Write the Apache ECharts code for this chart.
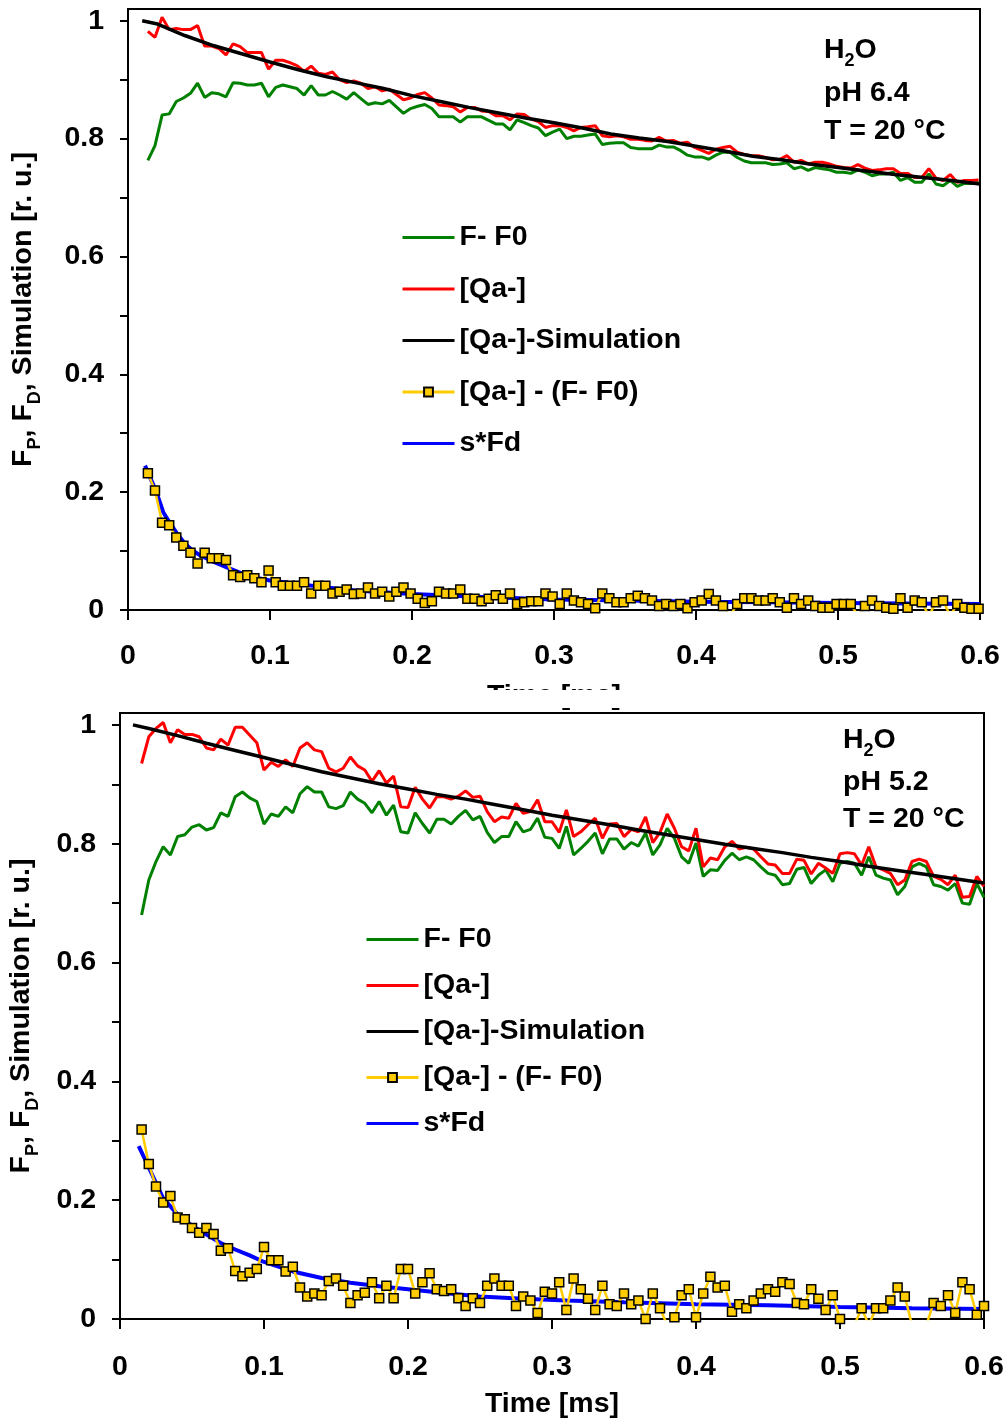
<!DOCTYPE html>
<html><head><meta charset="utf-8">
<script src="https://cdn.jsdelivr.net/npm/echarts@6/dist/echarts.min.js"></script>
<style>html,body{margin:0;padding:0;background:#fff}#c{width:1005px;height:1418px}</style>
</head><body><div id="c"></div>
<script>
// ---------- DATA ----------
const seriesNames = ['F- F0', '[Qa-]', '[Qa-]-Simulation', '[Qa-] - (F- F0)', 's*Fd'];
const xTickValues = [0, 0.1, 0.2, 0.3, 0.4, 0.5, 0.6];
const yLabelValues = [0, 0.2, 0.4, 0.6, 0.8, 1];
const yTickValues = [0, 0.1, 0.2, 0.3, 0.4, 0.5, 0.6, 0.7, 0.8, 0.9, 1];
const annotTop = ['pH 6.4', 'T = 20 °C'];
const annotBottom = ['pH 5.2', 'T = 20 °C'];

// sampling of the measured traces (ms)
const topStart = 0.014, bottomStart = 0.015, sampleStep = 0.005;

// ---- top panel (pH 6.4) ----
const greenTop = [0.763,0.788,0.840,0.842,0.863,0.869,0.877,0.894,0.870,0.878,0.876,0.871,0.895,0.894,0.891,0.891,0.894,0.871,0.887,0.891,0.888,0.885,0.874,0.890,0.874,0.874,0.880,0.874,0.867,0.878,0.868,0.858,0.861,0.859,0.865,0.854,0.843,0.851,0.855,0.858,0.851,0.837,0.837,0.837,0.828,0.837,0.837,0.837,0.831,0.825,0.825,0.815,0.832,0.827,0.822,0.818,0.805,0.811,
0.816,0.800,0.804,0.804,0.806,0.808,0.790,0.792,0.793,0.793,0.785,0.783,0.783,0.783,0.789,0.786,0.786,0.780,0.772,0.769,0.769,0.765,0.772,0.777,0.777,0.768,0.762,0.759,0.759,0.759,0.756,0.757,0.759,0.749,0.752,0.746,0.751,0.749,0.747,0.743,0.743,0.741,0.747,0.743,0.737,0.740,0.740,0.743,0.729,0.734,0.726,0.726,0.740,0.723,0.720,0.729,0.719,0.724,0.724,0.726];
const redTop = [0.982,0.972,1.006,0.985,0.987,0.985,0.985,0.992,0.957,0.957,0.953,0.942,0.961,0.956,0.946,0.946,0.946,0.918,0.933,0.933,0.929,0.924,0.914,0.923,0.911,0.909,0.913,0.900,0.895,0.898,0.894,0.885,0.888,0.881,0.884,0.875,0.866,0.869,0.875,0.878,0.869,0.857,0.856,0.854,0.845,0.853,0.853,0.847,0.846,0.839,0.839,0.832,0.842,0.841,0.833,0.829,0.819,0.822,
0.822,0.819,0.813,0.819,0.820,0.822,0.805,0.803,0.805,0.803,0.799,0.799,0.797,0.796,0.802,0.796,0.797,0.792,0.794,0.785,0.780,0.775,0.782,0.785,0.787,0.777,0.773,0.771,0.771,0.768,0.764,0.765,0.771,0.760,0.763,0.757,0.760,0.760,0.757,0.753,0.751,0.750,0.756,0.750,0.746,0.747,0.749,0.749,0.741,0.741,0.734,0.734,0.749,0.733,0.729,0.739,0.726,0.729,0.729,0.730];
const diffTop = [0.232,0.203,0.148,0.144,0.123,0.109,0.097,0.079,0.097,0.088,0.088,0.085,0.059,0.056,0.059,0.054,0.047,0.067,0.047,0.041,0.041,0.041,0.047,0.028,0.041,0.041,0.028,0.031,0.035,0.027,0.028,0.038,0.028,0.031,0.023,0.031,0.038,0.028,0.019,0.012,0.015,0.031,0.028,0.028,0.035,0.019,0.019,0.015,0.019,0.025,0.019,0.028,0.010,0.013,0.015,0.015,0.028,0.023,0.010,
0.028,0.016,0.013,0.010,0.003,0.028,0.020,0.013,0.013,0.020,0.024,0.020,0.016,0.007,0.010,0.007,0.010,0.003,0.013,0.016,0.027,0.016,0.007,-0.010,0.010,0.020,0.020,0.016,0.016,0.020,0.013,0.004,0.020,0.010,0.016,0.007,0.004,0.004,0.010,0.010,0.010,-0.010,0.007,0.016,0.007,0.004,0.002,0.020,0.004,0.016,0.013,-0.010,0.013,0.016,-0.010,0.010,0.004,0.002,0.002];
const simTopT = [0.010,0.020,0.040,0.060,0.080,0.100,0.120,0.140,0.160,0.180,0.200,0.220,0.240,0.260,0.280,0.300,0.320,0.340,0.360,0.380,0.400,0.420,0.440,0.460,0.480,0.500,0.520,0.540,0.560,0.580,0.600];
const simTopV = [1.000,0.995,0.975,0.958,0.944,0.930,0.917,0.905,0.895,0.885,0.873,0.863,0.853,0.844,0.835,0.827,0.818,0.808,0.801,0.795,0.787,0.779,0.770,0.764,0.757,0.751,0.745,0.739,0.734,0.729,0.723];
const fdTopT = [0.012,0.015,0.020,0.025,0.030,0.035,0.040,0.045,0.050,0.060,0.070,0.080,0.090,0.100,0.120,0.140,0.160,0.180,0.200,0.250,0.300,0.350,0.400,0.450,0.500,0.550,0.600];
const fdTopV = [0.245,0.228,0.200,0.165,0.146,0.128,0.113,0.102,0.094,0.082,0.072,0.062,0.055,0.050,0.044,0.038,0.033,0.030,0.027,0.022,0.018,0.016,0.014,0.013,0.012,0.011,0.010];

// ---- bottom panel (pH 5.2) ----
const greenBot = [0.680,0.739,0.770,0.795,0.781,0.812,0.815,0.828,0.832,0.823,0.827,0.852,0.846,0.879,0.887,0.877,0.871,0.833,0.850,0.846,0.862,0.852,0.884,0.896,0.887,0.887,0.862,0.859,0.864,0.887,0.875,0.868,0.852,0.871,0.848,0.865,0.820,0.818,0.852,0.834,0.818,0.841,0.841,0.833,0.846,0.856,0.840,0.846,0.819,0.802,0.812,0.812,0.837,0.820,0.824,0.843,0.811,0.809,0.792,
0.829,0.781,0.792,0.804,0.818,0.783,0.808,0.808,0.791,0.802,0.796,0.818,0.781,0.798,0.826,0.809,0.778,0.767,0.801,0.745,0.756,0.755,0.772,0.784,0.773,0.778,0.773,0.761,0.750,0.747,0.731,0.733,0.757,0.760,0.733,0.747,0.756,0.736,0.767,0.770,0.767,0.747,0.778,0.747,0.742,0.739,0.714,0.728,0.761,0.767,0.761,0.731,0.728,0.722,0.733,0.700,0.698,0.733,0.710];
const redBot = [0.935,0.980,0.994,1.004,0.970,0.992,0.984,0.984,0.980,0.961,0.958,0.976,0.966,0.996,0.996,0.983,0.970,0.924,0.937,0.930,0.941,0.930,0.961,0.970,0.958,0.955,0.927,0.921,0.927,0.946,0.931,0.924,0.905,0.923,0.902,0.914,0.862,0.861,0.895,0.875,0.860,0.879,0.879,0.875,0.880,0.889,0.878,0.880,0.854,0.837,0.845,0.843,0.868,0.851,0.854,0.874,0.837,0.837,0.819,
0.857,0.812,0.820,0.832,0.843,0.809,0.833,0.834,0.812,0.824,0.820,0.845,0.802,0.819,0.850,0.826,0.795,0.788,0.826,0.761,0.776,0.773,0.795,0.804,0.791,0.794,0.791,0.778,0.766,0.764,0.750,0.750,0.774,0.772,0.749,0.767,0.759,0.750,0.783,0.785,0.783,0.764,0.795,0.761,0.756,0.750,0.731,0.739,0.770,0.774,0.770,0.745,0.740,0.731,0.747,0.710,0.711,0.745,0.728];
const diffBot = [0.319,0.261,0.223,0.196,0.207,0.171,0.168,0.153,0.145,0.153,0.143,0.115,0.119,0.081,0.072,0.078,0.084,0.121,0.099,0.099,0.080,0.088,0.053,0.038,0.043,0.040,0.064,0.068,0.056,0.027,0.040,0.044,0.062,0.035,0.056,0.035,0.084,0.084,0.043,0.062,0.077,0.050,0.047,0.050,0.035,0.022,0.035,0.027,0.056,0.068,0.056,0.056,0.022,0.038,0.031,0.010,0.046,0.043,0.062,
0.015,0.068,0.050,0.034,0.015,0.056,0.025,0.022,0.043,0.025,0.031,0.000,0.043,0.018,-0.010,0.003,0.040,0.050,0.003,0.043,0.071,0.053,0.056,0.012,0.025,0.018,0.031,0.043,0.050,0.046,0.062,0.059,0.027,0.025,0.050,0.034,0.015,0.040,0.000,-0.010,-0.010,0.018,-0.010,0.018,0.018,0.031,0.053,0.038,-0.010,-0.010,-0.010,0.027,0.022,0.040,0.010,0.062,0.050,0.007,0.022];
const simBotT = [0.009,0.020,0.040,0.060,0.080,0.100,0.120,0.140,0.160,0.180,0.200,0.220,0.240,0.260,0.280,0.300,0.320,0.340,0.360,0.380,0.400,0.420,0.440,0.460,0.480,0.500,0.520,0.540,0.560,0.580,0.600];
const simBotV = [1.000,0.994,0.982,0.969,0.957,0.945,0.933,0.921,0.911,0.901,0.892,0.883,0.875,0.866,0.857,0.848,0.840,0.832,0.823,0.815,0.807,0.799,0.792,0.785,0.777,0.770,0.762,0.755,0.748,0.741,0.734];
const fdBotT = [0.013,0.020,0.030,0.040,0.050,0.060,0.070,0.080,0.090,0.100,0.120,0.140,0.160,0.180,0.200,0.220,0.250,0.280,0.310,0.350,0.400,0.450,0.500,0.550,0.600];
const fdBotV = [0.291,0.255,0.203,0.176,0.157,0.142,0.128,0.117,0.107,0.096,0.080,0.069,0.061,0.055,0.050,0.045,0.038,0.034,0.031,0.028,0.025,0.023,0.020,0.018,0.017];

// ---------- CHART ----------
const FONT = '"Liberation Sans", Arial, sans-serif';
const FS = 28.5;
const FSUB = 18;
const times = (arr, start) => arr.map((_, i) => +(start + sampleStep * i).toFixed(4));
const zip = (t, v) => t.map((x, i) => [x, v[i]]);

function lineOnly(name, gi, data, color, width) {
  return {name: name, type: 'line', xAxisIndex: gi, yAxisIndex: gi, data: data,
    symbol: 'none', lineStyle: {color: color, width: width}, itemStyle: {color: color, opacity: 0}};
}
function panelSeries(gi, start, green, red, simT, simV, diff, fdT, fdV) {
  const t = times(red, start);
  return [
    lineOnly(seriesNames[0], gi, zip(t, green), '#008000', 3),
    lineOnly(seriesNames[1], gi, zip(t, red), '#ff0000', 3),
    lineOnly(seriesNames[2], gi, zip(simT, simV), '#000000', 3.5),
    lineOnly(seriesNames[4], gi, zip(fdT, fdV), '#0000ff', 4),
    {name: seriesNames[3], type: 'line', xAxisIndex: gi, yAxisIndex: gi, data: zip(times(diff, start), diff),
     z: 3, symbol: 'rect', symbolSize: 9, showSymbol: true, showAllSymbol: true,
     lineStyle: {color: '#ffcc00', width: 2.5},
     itemStyle: {color: '#ffcc00', borderColor: '#000', borderWidth: 1.5}}
  ];
}

function xAxisDef(gi, gap, margin) {
  return {
    type: 'value', gridIndex: gi, min: 0, max: 0.6,
    name: 'Time [ms]', nameLocation: 'middle', nameGap: gap,
    nameTextStyle: {fontFamily: FONT, fontSize: FS, fontWeight: 'bold', color: '#000'},
    axisLine: {lineStyle: {color: '#000', width: 2}},
    axisTick: {show: true, inside: false, length: 10, lineStyle: {color: '#000', width: 2}, customValues: xTickValues},
    axisLabel: {fontFamily: FONT, fontSize: FS, fontWeight: 'bold', color: '#000', margin: margin, customValues: xTickValues},
    splitLine: {show: false}
  };
}
function yAxisDef(gi, gap) {
  return {
    type: 'value', gridIndex: gi, min: 0, max: 1.02,
    name: '{n|F}{s|P}{n|, F}{s|D}{n|, Simulation [r. u.]}', nameLocation: 'middle', nameGap: gap, nameRotate: 90,
    nameTextStyle: {
      fontFamily: FONT, fontSize: FS, fontWeight: 'bold', color: '#000',
      rich: {
        n: {fontFamily: FONT, fontSize: FS, fontWeight: 'bold', color: '#000', lineHeight: 35, verticalAlign: 'top'},
        s: {fontFamily: FONT, fontSize: FSUB, fontWeight: 'bold', color: '#000', lineHeight: 18, verticalAlign: 'bottom'}
      }
    },
    axisLine: {lineStyle: {color: '#000', width: 2}},
    axisTick: {show: true, inside: false, length: 8, lineStyle: {color: '#000', width: 2}, customValues: yTickValues},
    axisLabel: {fontFamily: FONT, fontSize: FS, fontWeight: 'bold', color: '#000', margin: 24, customValues: yLabelValues},
    splitLine: {show: false}
  };
}
function legendDef(left, top, gap) {
  return {
    data: seriesNames, left: left, top: top, orient: 'vertical', padding: 0,
    itemWidth: 52, itemHeight: 11, itemGap: gap, itemTextGap: 6,
    lineStyle: {width: 3},
    textStyle: {fontFamily: FONT, fontSize: FS, fontWeight: 'bold', color: '#000'}
  };
}
function annot(x, yH, lines, ys) {
  const els = [{
    type: 'text', x: x, y: yH, z: 50,
    style: {text: '{a|H}{b|2}{a|O}', verticalAlign: 'middle', align: 'left',
      rich: {
        a: {fontFamily: FONT, fontSize: FS, fontWeight: 'bold', fill: '#000', lineHeight: 35, verticalAlign: 'top'},
        b: {fontFamily: FONT, fontSize: FSUB, fontWeight: 'bold', fill: '#000', lineHeight: 18, verticalAlign: 'bottom'}
      }}
  }];
  lines.forEach((s, i) => els.push({
    type: 'text', x: x, y: ys[i], z: 50,
    style: {text: s, fontFamily: FONT, fontSize: FS, fontWeight: 'bold', fill: '#000', verticalAlign: 'middle', align: 'left'}
  }));
  return els;
}

const chart = echarts.init(document.getElementById('c'), null, {renderer: 'canvas'});
chart.setOption({
  animation: false,
  backgroundColor: '#fff',
  grid: [
    {left: 128, top: 9, width: 852, height: 601, outerBoundsMode: 'none', containLabel: false,
     show: true, borderColor: '#000', borderWidth: 2, backgroundColor: 'transparent'},
    {left: 120, top: 713, width: 864, height: 606, outerBoundsMode: 'none', containLabel: false,
     show: true, borderColor: '#000', borderWidth: 2, backgroundColor: 'transparent'}
  ],
  xAxis: [xAxisDef(0, 72, 32), xAxisDef(1, 71, 34)],
  yAxis: [yAxisDef(0, 84), yAxisDef(1, 78)],
  legend: [legendDef(401, 223, 22.5), legendDef(365, 925, 17)],
  series: [
    ...panelSeries(0, topStart, greenTop, redTop, simTopT, simTopV, diffTop, fdTopT, fdTopV),
    ...panelSeries(1, bottomStart, greenBot, redBot, simBotT, simBotV, diffBot, fdBotT, fdBotV)
  ],
  graphic: [
    {type: 'rect', left: 0, top: 690, z: 100, shape: {width: 1005, height: 18}, style: {fill: '#fff'}},
    ...annot(824, 53, annotTop, [93, 131]),
    ...annot(843, 743, annotBottom, [782, 819])
  ]
});
</script></body></html>
